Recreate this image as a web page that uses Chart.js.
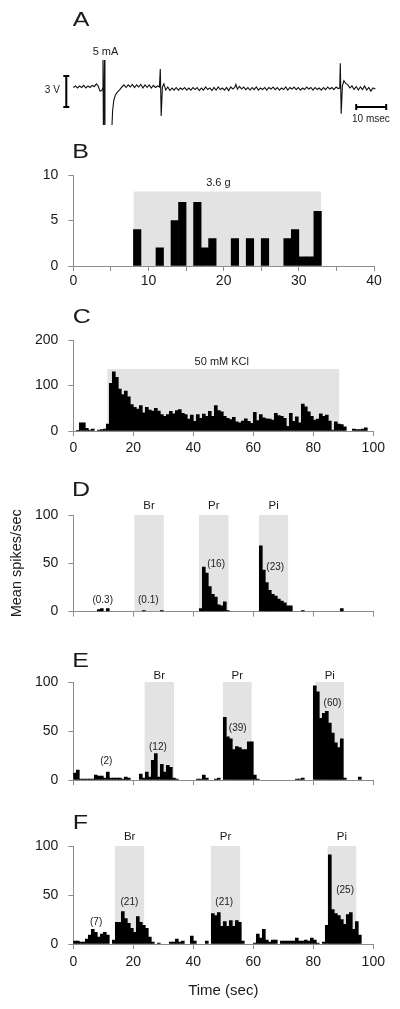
<!DOCTYPE html>
<html>
<head>
<meta charset="utf-8">
<script src="https://cdn.jsdelivr.net/npm/chart.js@4.4.1/dist/chart.umd.min.js"></script>
<style>
  html, body { margin: 0; padding: 0; background: #fff; }
  body { width: 400px; height: 1009px; position: relative; overflow: hidden; }
  canvas { position: absolute; left: 0; }
</style>
</head>
<body>
<canvas id="panelA" width="400" height="125" style="top:0px"></canvas>
<canvas id="panelB" width="400" height="160" style="top:140px"></canvas>
<canvas id="panelC" width="400" height="160" style="top:300px"></canvas>
<canvas id="panelD" width="400" height="160" style="top:470px"></canvas>
<canvas id="panelE" width="400" height="160" style="top:640px"></canvas>
<canvas id="panelF" width="400" height="209" style="top:800px"></canvas>
<script>
// ---------- data ----------

// A: raw recording, time in msec, voltage in V
const traceMs = [0, 0.7, 1.4, 2.1, 2.8, 3.5, 4.2, 4.9, 5.6, 6.3, 7.0, 7.7, 8.3, 8.9, 9.5, 9.8,
  9.9, 10.05, 10.4, 10.55, 12.7, 13.1, 13.5, 14.0, 14.7, 15.5, 16.2,
  16.9, 17.6, 18.3, 19.0, 19.7, 20.4, 21.1, 21.8, 22.5, 23.2, 23.9, 24.6, 25.3, 26.0, 26.7, 27.4, 28.1, 28.7,
  29.0, 29.3, 29.7, 30.2, 30.8, 31.5,
  32.2, 32.9, 33.6, 34.3, 35.0, 35.7, 36.4, 37.1, 37.8, 38.5, 39.2, 39.9, 40.6, 41.3, 42.0, 42.7, 43.4, 44.1,
  44.8, 45.5, 46.2, 46.9, 47.6, 48.3, 49.0, 49.7, 50.4, 51.1, 51.8, 52.5, 53.2, 53.8, 54.2, 54.7, 55.4, 56.1,
  56.8, 57.5, 58.2, 58.9, 59.6, 60.3, 61.0, 61.7, 62.4, 63.1, 63.8, 64.5, 65.2, 65.9, 66.6, 67.3, 68.0, 68.7,
  69.4, 70.1, 70.8, 71.5, 72.2, 72.9, 73.6, 74.3, 75.0, 75.7, 76.4, 77.1, 77.8, 78.5, 79.2, 79.9, 80.6, 81.3,
  82.0, 82.7, 83.4, 84.1, 84.8, 85.5, 86.2, 86.9, 87.6, 88.3, 88.8,
  89.0, 89.3, 89.7, 90.2, 90.8, 91.5, 92.2, 92.9, 93.6, 94.3, 95.0, 95.7, 96.4, 97.1, 97.8, 98.5, 99.2, 99.9, 100.7];
const traceV = [0.05, 0.2, 0, 0.2, 0.05, 0.25, 0, 0.2, 0.05, 0.25, 0.15, 0.4, 0.2, -0.3, -0.25, 0,
  2.7, -5, 2.7, -5, -5, -2.2, -1.2, -0.7, -0.4, -0.15, 0.1,
  0.3, 0.05, 0.3, 0.1, 0.35, 0.05, 0.3, 0.1, 0.35, 0, 0.3, 0.05, 0.3, 0, 0.25, 0.05, 0.2, 0.1,
  1.84, -2.7, 0.1, 0.4, -0.2, 0.1,
  -0.25, 0, -0.2, 0.05, -0.2, 0, -0.15, 0.05, -0.2, 0, -0.2, 0.05, -0.15, 0.05, -0.25, 0, -0.2, 0.1,
  -0.15, 0, -0.25, 0.05, -0.2, 0.1, -0.15, 0, -0.2, 0.05, -0.25, 0.1, -0.1, 0.05, 0.35, -0.1, 0.15, -0.1,
  0.1, -0.15, 0.05, -0.2, 0.05, -0.15, 0.1, -0.2, 0, -0.15, 0.05, -0.2, 0.05, -0.1, 0.1, -0.15, 0.05, -0.2,
  0, -0.15, 0.1, -0.2, 0.05, -0.1, 0.1, -0.15, 0.05, -0.2, 0, -0.15, 0.1, -0.1, 0.05, -0.2, 0.05, -0.15,
  0, -0.2, 0.05, -0.15, 0.1, -0.1, 0.05, -0.15, 0.1, -0.05, 0,
  2.39, -2.5, 0.2, 0.7, 0.45, 0.3, 0, 0.2, -0.15, 0.15, -0.2, 0.1, -0.15, 0.2, -0.2, 0.05, -0.3, 0, -0.1];
// calibration bars: 3 V and 10 msec
const voltBarMs = [-3.33, -1.33, -2.33, -2.33, -3.33, -1.33];
const voltBarV = [1.16, 1.16, 1.16, -1.84, -1.84, -1.84];
const timeBarMs = [94.3, 94.3, 94.3, 104.3, 104.3, 104.3];
const timeBarV = [-1.55, -2.13, -1.84, -1.84, -1.55, -2.13];

// B: spikes per 1 s bin, 3.6 g stimulus
const bCounts = [0, 0, 0, 0, 0, 0, 0, 0, 4, 0, 0, 2, 0, 5, 7, 0, 7, 2, 3, 0,
  0, 3, 0, 3, 0, 3, 0, 0, 3, 4, 1, 1, 6, 0, 0, 0, 0, 0, 0, 0];
const bStim = [8, 33];

// C: spikes/sec, 50 mM KCl
const cRates = [0, 1, 18, 18, 6, 2, 4, 0, 2, 3,
  4, 15, 105, 130, 118, 92, 80, 88, 75, 58,
  52, 48, 56, 40, 52, 46, 44, 50, 44, 36,
  32, 36, 43, 38, 45, 47, 39, 36, 26, 35,
  21, 36, 28, 37, 32, 43, 32, 56, 45, 42,
  32, 28, 25, 30, 20, 18, 22, 27, 21, 17,
  41, 23, 36, 29, 27, 26, 24, 39, 34, 32,
  28, 10, 39, 21, 31, 18, 59, 53, 42, 32,
  24, 26, 38, 32, 35, 22, 2, 20, 15, 14,
  9, 0, 0, 4, 3, 3, 4, 7, 0, 0];
const cStim = [11.3, 88.7];

// D, E, F: mean spikes/sec per 1 s bin
const dRates = [0, 0, 0, 0, 0, 0, 0, 0, 2, 3,
  0, 3, 0, 0, 0, 0, 0, 0, 0, 0,
  0, 0, 0, 1, 0, 0, 0, 0, 0, 1,
  0, 0, 0, 0, 0, 0, 0, 0, 0, 0,
  0, 0, 3, 46, 40, 26, 18, 15, 7, 6,
  10, 1, 0, 0, 0, 0, 0, 0, 0, 0,
  0, 0, 68, 43, 30, 22, 18, 16, 13, 11,
  9, 6, 6, 0, 0, 0, 1, 0, 0, 0,
  0, 0, 0, 0, 0, 0, 0, 0, 0, 3,
  0, 0, 0, 0, 0, 0, 0, 0, 0, 0];
const eRates = [7, 10, 1, 1, 1, 1, 1, 5, 4, 4,
  2, 8, 2, 2, 2, 2, 1, 3, 2, 0,
  0, 0, 6, 2, 8, 3, 20, 27, 3, 16,
  8, 15, 13, 2, 1, 0, 0, 0, 0, 0,
  0, 1, 1, 5, 2, 0, 0, 1, 2, 0,
  64, 44, 42, 31, 34, 33, 31, 31, 39, 39,
  5, 1, 0, 0, 0, 0, 0, 0, 0, 0,
  0, 0, 0, 0, 1, 1, 2, 0, 0, 0,
  96, 90, 63, 68, 70, 58, 48, 38, 33, 42,
  2, 0, 0, 0, 0, 3, 0, 0, 0, 0];
const fRates = [3, 3, 2, 2, 5, 9, 15, 12, 7, 10,
  12, 9, 0, 4, 22, 22, 33, 26, 21, 16,
  12, 28, 22, 19, 16, 7, 2, 0, 1, 0,
  0, 0, 2, 2, 5, 2, 3, 0, 0, 8,
  3, 0, 0, 0, 3, 0, 31, 29, 32, 18,
  23, 18, 24, 18, 24, 22, 3, 0, 0, 0,
  1, 10, 6, 15, 4, 2, 4, 4, 0, 3,
  3, 3, 3, 3, 6, 3, 3, 4, 3, 6,
  4, 1, 0, 2, 19, 91, 35, 31, 29, 25,
  20, 30, 32, 15, 23, 9, 0, 0, 0, 0];

const odorNames = ['Br', 'Pr', 'Pi'];
const dOdors = [[20.3, 30.2], [41.9, 51.8], [61.9, 71.7]];
const eOdors = [[23.7, 33.6], [49.8, 59.5], [80.7, 90.3]];
const fOdors = [[13.9, 23.7], [45.8, 55.7], [84.7, 94.4]];

// mean rate printed above each period
const dMeans = [0.3, 0.1, 16, 23];
const eMeans = [2, 12, 39, 60];
const fMeans = [7, 21, 21, 25];

// ---------- drawing ----------
const FONT = "'Liberation Sans', Arial, Helvetica, sans-serif";
const AXIS = '#8c8c8c';
const SHADE = '#e3e3e3';
Chart.defaults.font.family = FONT;
Chart.defaults.color = '#1a1a1a';
Chart.defaults.animation = false;
Chart.defaults.plugins.legend.display = false;
Chart.defaults.plugins.tooltip.enabled = false;

function xy(xs, ys) {
  return xs.map((x, i) => ({x: x, y: ys[i]}));
}

// text drawn in data coordinates, plus the panel letter in pixels
function notesPlugin(letter, notes) {
  return {
    id: 'notes',
    afterDraw(chart) {
      const ctx = chart.ctx;
      const xs = chart.scales.x, ys = chart.scales.y;
      ctx.save();
      ctx.fillStyle = '#1a1a1a';
      ctx.textAlign = 'center';
      ctx.textBaseline = 'middle';
      ctx.font = '20px ' + FONT;
      ctx.save();
      ctx.translate(letter.x, letter.y);
      ctx.scale(1.25, 1); // letters in the original are wide
      ctx.fillText(letter.text, 0, 0);
      ctx.restore();
      notes.forEach(n => {
        ctx.font = n.size + 'px ' + FONT;
        ctx.fillText(n.text, xs.getPixelForValue(n.x), ys.getPixelForValue(n.y) + (n.dy || 0));
      });
      ctx.restore();
    }
  };
}

// panel A
new Chart(document.getElementById('panelA'), {
  type: 'line',
  data: {
    datasets: [
      {data: xy(traceMs, traceV), borderColor: '#111', borderWidth: 1.1, pointRadius: 0},
      {data: xy(voltBarMs, voltBarV), borderColor: '#000', borderWidth: 2, pointRadius: 0},
      {data: xy(timeBarMs, timeBarV), borderColor: '#000', borderWidth: 2, pointRadius: 0}
    ]
  },
  options: {
    responsive: false,
    devicePixelRatio: 1,
    layout: {padding: 0},
    scales: {
      x: {type: 'linear', display: false, min: -24.43, max: 108.9},
      y: {display: false, min: -3.58, max: 8.52}
    }
  },
  plugins: [notesPlugin({text: 'A', x: 81, y: 20}, [
    {text: '3 V', x: -7.0, y: -0.26, size: 10},
    {text: '5 mA', x: 10.74, y: 3.52, size: 11},
    {text: '10 msec', x: 99.2, y: -3.07, size: 10}
  ])]
});

function histPanel(id, o) {
  const datasets = [{
    type: 'bar',
    data: o.bins.map((v, i) => ({x: i + 0.5, y: v || null})),
    backgroundColor: '#000',
    borderWidth: 0,
    barPercentage: 1,
    categoryPercentage: 1,
    order: 1
  }];
  o.stims.forEach(r => datasets.push({
    type: 'line',
    data: [{x: r[0], y: o.stimTop}, {x: r[1], y: o.stimTop}],
    borderColor: 'rgba(0,0,0,0)',
    borderWidth: 0,
    pointRadius: 0,
    fill: 'origin',
    backgroundColor: SHADE,
    order: 2
  }));
  const gridOpts = {display: true, drawOnChartArea: false, drawTicks: true, tickLength: 5, color: AXIS, offset: false};
  new Chart(document.getElementById(id), {
    type: 'bar',
    data: {datasets: datasets},
    options: {
      responsive: false,
      devicePixelRatio: 1,
      layout: {padding: {top: o.plotTop, right: o.right, left: 0, bottom: 0}},
      scales: {
        x: {
          type: 'linear', min: 0, max: o.xMax, offset: false,
          grid: gridOpts,
          border: {display: true, color: AXIS, width: 1},
          ticks: {
            display: o.showX, stepSize: o.xStep, autoSkip: false, maxRotation: 0,
            padding: o.tickPad, font: {size: 14},
            callback: v => (v % o.labelEvery === 0 ? v : '')
          },
          title: o.xTitle
            ? {display: true, text: o.xTitle, font: {size: 15}, padding: {top: 0, bottom: 9}}
            : {display: false},
          afterFit: s => { s.height = o.axisH; }
        },
        y: {
          min: 0, max: o.yMax,
          grid: gridOpts,
          border: {display: true, color: AXIS, width: 1},
          ticks: {stepSize: o.yStep, padding: 10, font: {size: 14}},
          title: o.yTitle
            ? {display: true, text: o.yTitle, font: {size: 14.5}, padding: {top: 8, bottom: 0}}
            : {display: false},
          afterFit: s => { s.width = 73.3; }
        }
      }
    },
    plugins: [notesPlugin(o.letter, o.notes)]
  });
}

function odorNotes(ranges, top, gap, means, meanAt) {
  const out = [];
  ranges.forEach((r, i) => out.push({text: odorNames[i], x: (r[0] + r[1]) / 2, y: top, dy: -gap, size: 11.5}));
  means.forEach((m, i) => out.push({text: '(' + m + ')', x: meanAt[i][0], y: meanAt[i][1], size: 10}));
  return out;
}

histPanel('panelB', {
  bins: bCounts, stims: [bStim], stimTop: 8.2,
  xMax: 40, xStep: 5, labelEvery: 10, showX: true, tickPad: 2,
  yMax: 10, yStep: 5, plotTop: 35, axisH: 34, right: 26,
  letter: {text: 'B', x: 80.5, y: 12.5},
  notes: [{text: '3.6 g', x: 19.3, y: 9.07, size: 11}]
});

histPanel('panelC', {
  bins: cRates, stims: [cStim], stimTop: 136,
  xMax: 100, xStep: 20, labelEvery: 20, showX: true, tickPad: 4,
  yMax: 200, yStep: 100, plotTop: 40, axisH: 29, right: 26.7,
  letter: {text: 'C', x: 81.7, y: 17.5},
  notes: [{text: '50 mM KCl', x: 49.5, y: 151.6, size: 11}]
});

histPanel('panelD', {
  bins: dRates, stims: dOdors, stimTop: 100,
  xMax: 100, xStep: 20, labelEvery: 20, showX: false, tickPad: 5,
  yMax: 100, yStep: 50, plotTop: 45, axisH: 18, right: 26.7,
  yTitle: 'Mean spikes/sec',
  letter: {text: 'D', x: 81, y: 20},
  notes: odorNotes(dOdors, 100, 9, dMeans, [[9.8, 11.3], [25, 11.3], [47.6, 48.5], [67.3, 45.4]])
});

histPanel('panelE', {
  bins: eRates, stims: eOdors, stimTop: 100,
  xMax: 100, xStep: 20, labelEvery: 20, showX: false, tickPad: 5,
  yMax: 100, yStep: 50, plotTop: 42, axisH: 20, right: 26.7,
  letter: {text: 'E', x: 80.7, y: 21},
  notes: odorNotes(eOdors, 100, 6, eMeans, [[11, 18.7], [28.2, 33.7], [54.8, 52.3], [86.4, 78.8]])
});

histPanel('panelF', {
  bins: fRates, stims: fOdors, stimTop: 100,
  xMax: 100, xStep: 20, labelEvery: 20, showX: true, tickPad: 5,
  yMax: 100, yStep: 50, plotTop: 46, axisH: 65, right: 26.7,
  xTitle: 'Time (sec)',
  letter: {text: 'F', x: 80.3, y: 23.7},
  notes: odorNotes(fOdors, 100, 9, fMeans, [[7.6, 22.4], [18.7, 42.5], [50.3, 42.5], [90.6, 54.8]])
});
</script>
</body>
</html>
